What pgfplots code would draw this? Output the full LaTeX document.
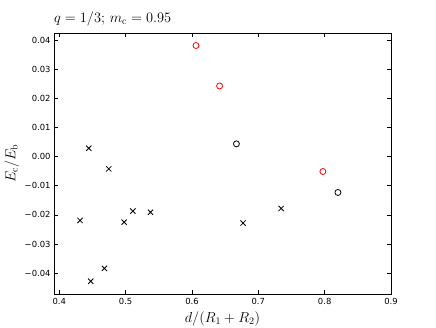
\documentclass[border=0pt]{standalone}
\usepackage[no-math]{fontspec}
\usepackage{pgfplots}
\pgfplotsset{compat=1.18}
\newfontfamily\tickfont{DejaVu Sans}
\begin{document}
\begin{tikzpicture}
\begin{axis}[
  at={(0,0)}, anchor=south west,
  scale only axis, width=337pt, height=261pt,
  xmin=0.392, xmax=0.9, ymin=-0.0472, ymax=0.0425,
  scaled x ticks=false, scaled y ticks=false,
  xtick={0.4,0.5,0.6,0.7,0.8,0.9},
  xticklabels={0.4,0.5,0.6,0.7,0.8,0.9},
  ytick={-0.04,-0.03,-0.02,-0.01,0,0.01,0.02,0.03,0.04},
  yticklabels={−0.04,−0.03,−0.02,−0.01,0.00,0.01,0.02,0.03,0.04},
  tick align=inside, major tick length=4pt,
  tick style={black, line width=0.6pt},
  axis line style={line width=0.8pt},
  ticklabel style={font=\tickfont\fontsize{8.4}{10}\selectfont},
  xticklabel style={yshift=-0.5pt},
  label style={font=\fontsize{14.5}{17}\selectfont},
  xlabel={$d/(R_1+R_2)$},
  xlabel style={at={(axis description cs:0.5,0)}, anchor=base, yshift=-28.5pt, inner sep=0pt},
  ylabel={$E_\mathrm{c}/E_\mathrm{b}$},
  ylabel style={at={(axis description cs:-0.103,0.5)}, anchor=south, inner sep=0pt},
  title={$q=1/3;\,m_\mathrm{c}=0.95$},
  title style={font=\fontsize{14.5}{17}\selectfont, at={(axis description cs:0,1)}, anchor=base west, yshift=4.5pt, inner sep=0pt},
]
% crosses
\addplot[only marks, mark=x, mark size=3.7pt, mark options={black, line width=0.8pt}] coordinates {
  (0.4313,-0.0219) (0.4444,0.0029) (0.4746,-0.0042) (0.4474,-0.0428)
  (0.4680,-0.0384) (0.4977,-0.0225) (0.5109,-0.0187) (0.5375,-0.0191)
  (0.6770,-0.0228) (0.7344,-0.0178)
};
% black circles
\addplot[only marks, mark=o, mark size=3pt, mark options={black, line width=0.8pt}] coordinates {
  (0.667,0.0044) (0.820,-0.0123)
};
% red circles
\addplot[only marks, mark=o, mark size=3pt, mark options={red, line width=0.8pt}] coordinates {
  (0.606,0.0382) (0.6416,0.0243) (0.7973,-0.0051)
};
\end{axis}
\path (-54pt,-33pt) rectangle (382pt,294pt);
\end{tikzpicture}
\end{document}
